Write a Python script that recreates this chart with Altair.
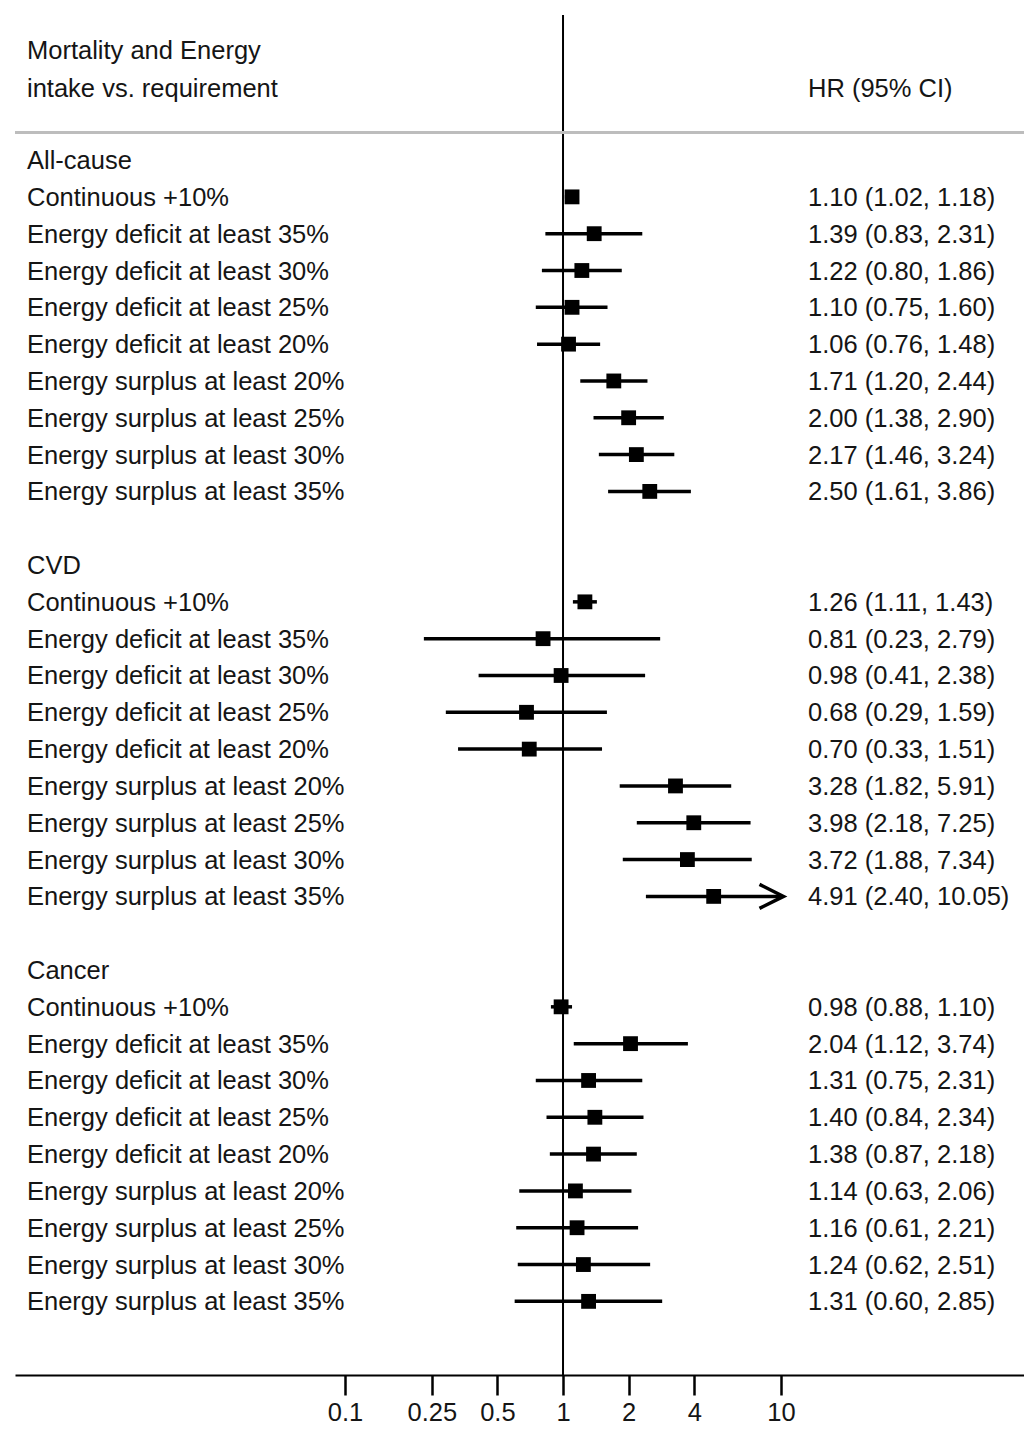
import altair as alt
import pandas as pd

groups = ["All-cause", "CVD", "Cancer"]
labels = [
    "Continuous +10%",
    "Energy deficit at least 35%",
    "Energy deficit at least 30%",
    "Energy deficit at least 25%",
    "Energy deficit at least 20%",
    "Energy surplus at least 20%",
    "Energy surplus at least 25%",
    "Energy surplus at least 30%",
    "Energy surplus at least 35%",
]
hr_all = [1.10, 1.39, 1.22, 1.10, 1.06, 1.71, 2.00, 2.17, 2.50]
lo_all = [1.02, 0.83, 0.80, 0.75, 0.76, 1.20, 1.38, 1.46, 1.61]
hi_all = [1.18, 2.31, 1.86, 1.60, 1.48, 2.44, 2.90, 3.24, 3.86]

hr_cvd = [1.26, 0.81, 0.98, 0.68, 0.70, 3.28, 3.98, 3.72, 4.91]
lo_cvd = [1.11, 0.23, 0.41, 0.29, 0.33, 1.82, 2.18, 1.88, 2.40]
hi_cvd = [1.43, 2.79, 2.38, 1.59, 1.51, 5.91, 7.25, 7.34, 10.05]

hr_can = [0.98, 2.04, 1.31, 1.40, 1.38, 1.14, 1.16, 1.24, 1.31]
lo_can = [0.88, 1.12, 0.75, 0.84, 0.87, 0.63, 0.61, 0.62, 0.60]
hi_can = [1.10, 3.74, 2.31, 2.34, 2.18, 2.06, 2.21, 2.51, 2.85]

header_left = ["Mortality and Energy", "intake vs. requirement"]
header_right = "HR (95% CI)"
tick_values = [0.1, 0.25, 0.5, 1, 2, 4, 10]

FONT = "Liberation Sans"
FS = 25.5
TXT = "#151515"

rows, grows = [], []
r = 3
for g, hrs, los, his in zip(groups, [hr_all, hr_cvd, hr_can],
                            [lo_all, lo_cvd, lo_can], [hi_all, hi_cvd, hi_can]):
    grows.append({"row": r, "label": g})
    for i, lab in enumerate(labels):
        rows.append({
            "row": r + 1 + i, "label": lab, "hr": hrs[i], "lo": los[i], "hi": his[i],
            "txt": f"{hrs[i]:.2f} ({los[i]:.2f}, {his[i]:.2f})",
            "arrow": his[i] > 10,
        })
    r += 11

df = pd.DataFrame(rows)
gdf = pd.DataFrame(grows)
hdf = pd.DataFrame({"row": [0, 1.05], "label": header_left})
hrdf = pd.DataFrame({"row": [1.05], "label": [header_right]})

xscale = alt.Scale(type="log", domain=[0.003063, 130.2], nice=False)
yscale = alt.Scale(domain=[-0.94, 36], reverse=True, nice=False, zero=False)
xaxis = alt.Axis(values=tick_values, title=None, grid=False, domain=True,
                 domainColor="black", domainWidth=2, tickColor="black",
                 tickWidth=2.5, tickSize=20, labelFont=FONT, labelFontSize=FS,
                 labelColor=TXT, labelPadding=5, labelFlush=False,
                 format="~g")

vline = alt.Chart(pd.DataFrame({"x": [1]})).mark_rule(
    color="black", strokeWidth=2).encode(
    x=alt.X("x:Q", scale=xscale, axis=xaxis))

sep = alt.Chart(pd.DataFrame({"y": [2.25]})).mark_rule(
    color="#bdbdbd", strokeWidth=3).encode(
    y=alt.Y("y:Q", scale=yscale, axis=None))

ci = alt.Chart(df).mark_rule(color="black", strokeWidth=3.5).encode(
    x=alt.X("lo:Q", scale=xscale, axis=xaxis), x2="hi:Q",
    y=alt.Y("row:Q", scale=yscale, axis=None))

pts = alt.Chart(df).mark_point(shape="square", filled=True, size=220,
                               color="black", opacity=1).encode(
    x=alt.X("hr:Q", scale=xscale, axis=xaxis),
    y=alt.Y("row:Q", scale=yscale, axis=None))

arrows = alt.Chart(df).transform_filter("datum.arrow").mark_point(
    shape="M-2,-1L0,0L-2,1", filled=False, size=576, strokeWidth=3.5,
    color="black", opacity=1, xOffset=2).encode(
    x=alt.X("hi:Q", scale=xscale, axis=xaxis),
    y=alt.Y("row:Q", scale=yscale, axis=None))

def text_layer(data, field, xpx):
    return alt.Chart(data).mark_text(
        align="left", baseline="middle", font=FONT, fontSize=FS, color=TXT,
        dy=1).encode(
        x=alt.value(xpx), y=alt.Y("row:Q", scale=yscale, axis=None),
        text=f"{field}:N")

left = text_layer(df, "label", 12)
gtxt = text_layer(gdf, "label", 12)
htxt = text_layer(hdf, "label", 12)
right = text_layer(df, "txt", 793)
hrtxt = text_layer(hrdf, "label", 793)

chart = alt.layer(vline, sep, ci, pts, arrows, left, gtxt, htxt, right, hrtxt).properties(
    width=1009, height=1360,
    autosize=alt.AutoSizeParams(type="none"),
    padding={"left": 7, "top": 7, "right": 0, "bottom": 51},
).configure_view(stroke=None)

chart.save("out.html", embed_options={"renderer": "svg", "actions": False})
